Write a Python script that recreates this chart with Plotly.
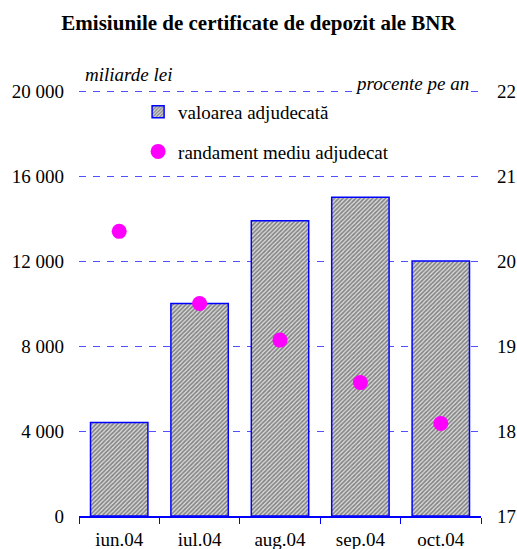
import plotly.graph_objects as go

months = ["iun.04", "iul.04", "aug.04", "sep.04", "oct.04"]
valoarea = [4400, 10000, 13900, 15000, 12000]
randament = [20.35, 19.50, 19.07, 18.57, 18.09]
left_ticks = [0, 4000, 8000, 12000, 16000, 20000]
left_labels = ["0", "4 000", "8 000", "12 000", "16 000", "20 000"]
right_ticks = [17, 18, 19, 20, 21, 22]
right_labels = ["17", "18", "19", "20", "21", "22"]

BLUE = "#0000ff"
GRID = "#5050ff"
FONT = "Times New Roman, Liberation Serif, serif"

fig = go.Figure()
fig.add_trace(go.Bar(
    x=months, y=valoarea, name="valoarea adjudecată", width=0.714,
    legendgroup="a",
    marker=dict(
        color="#c0c0c0",
        line=dict(color=BLUE, width=1.5),
        pattern=dict(shape="/", fgcolor="#2a2a2a", bgcolor="#dcdcdc", size=3, solidity=0.55),
    ),
))
fig.add_trace(go.Scatter(
    x=months, y=randament, yaxis="y2", mode="markers",
    name="randament mediu adjudecat", legendgroup="b",
    marker=dict(color="#ff00ff", size=15),
))

fig.update_layout(
    width=517, height=549,
    margin=dict(l=79, r=36, t=89, b=33, autoexpand=False),
    paper_bgcolor="white", plot_bgcolor="white",
    font=dict(family=FONT, size=19, color="black"),
    title=dict(text="<b>Emisiunile de certificate de depozit ale BNR</b>",
               x=258.5 / 517, xanchor="center", xref="container", y=1 - 23 / 549, yanchor="middle",
               yref="container", automargin=False,
               font=dict(family=FONT, size=21, color="black")),
    showlegend=True,
    legend=dict(x=0.147, y=0.991, xanchor="left", yanchor="top", bgcolor="rgba(0,0,0,0)",
                tracegroupgap=12, font=dict(family=FONT, size=19, color="black")),
    xaxis=dict(type="category", range=[-0.5, 4.5], showline=True, linecolor=BLUE, linewidth=1.5,
               ticks="outside", tickson="boundaries", ticklen=6, tickcolor=BLUE, tickwidth=1,
               showgrid=False, zeroline=False, ticklabelstandoff=5, automargin=False),
    yaxis=dict(range=[0, 20100], tickvals=left_ticks, ticktext=left_labels, showgrid=True,
               gridcolor=GRID, griddash="7px,7px", gridwidth=1, zeroline=False, showline=False,
               ticks="", ticklabelstandoff=14, automargin=False),
    yaxis2=dict(range=[17, 22.025], tickvals=right_ticks, ticktext=right_labels, overlaying="y",
                side="right", showgrid=False, zeroline=False, showline=False, ticks="",
                ticklabelstandoff=15, automargin=False),
    annotations=[
        dict(text="<i>miliarde lei</i>", x=0.124, y=1.033, xref="paper",
             yref="paper", showarrow=False, xanchor="center", yanchor="middle",
             font=dict(family=FONT, size=19, color="black")),
        dict(text="<i>procente pe an</i>", x=0.828, y=1.012, xref="paper",
             yref="paper", showarrow=False, xanchor="center", yanchor="middle", bgcolor="white",
             font=dict(family=FONT, size=19, color="black")),
    ],
)

fig.write_html("out.html",
               config={"displayModeBar": False},
               post_script="document.body.style.margin='0';document.body.style.overflow='hidden';")
